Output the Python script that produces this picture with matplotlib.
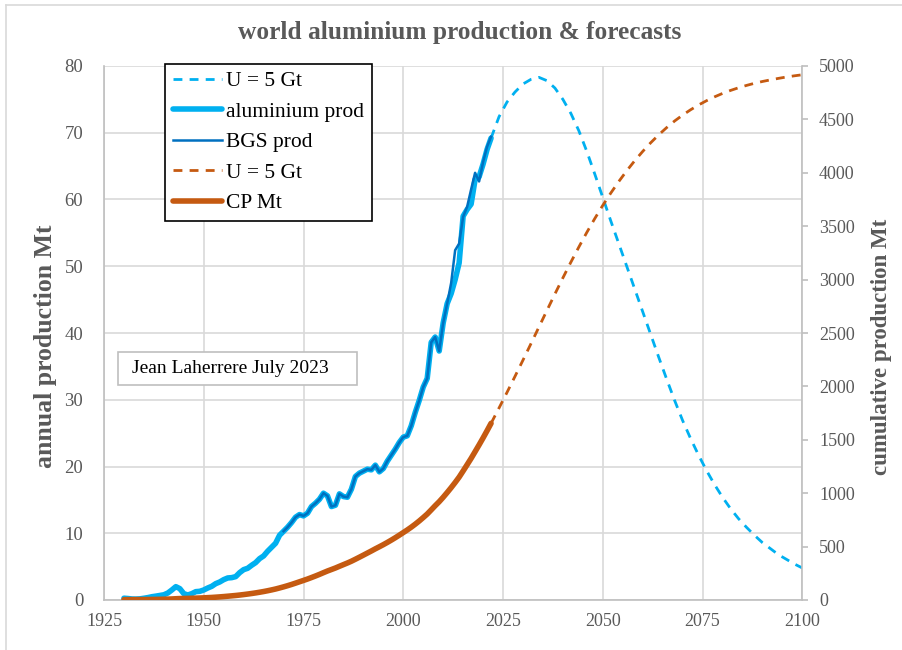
import matplotlib
matplotlib.use("Agg")
import matplotlib.pyplot as plt
from matplotlib.patches import Rectangle
from matplotlib.lines import Line2D

plt.rcParams['font.family'] = ['Liberation Serif', 'DejaVu Serif']

# ---- data -------------------------------------------------------------
years_hist = list(range(1930, 2023))
alu_prod = [
    0.27, 0.22, 0.15, 0.14, 0.17, 0.26, 0.36, 0.49, 0.58, 0.68,
    0.78, 1.05, 1.50, 2.00, 1.70, 0.95, 0.75, 0.95, 1.25, 1.30,
    1.50, 1.80, 2.05, 2.45, 2.70, 3.05, 3.30, 3.35, 3.50, 4.10,
    4.55, 4.75, 5.20, 5.60, 6.20, 6.60, 7.30, 7.90, 8.50, 9.70,
    10.3, 10.9, 11.6, 12.4, 12.8, 12.6, 13.0, 14.0, 14.5, 15.1,
    16.0, 15.6, 14.0, 14.2, 15.9, 15.5, 15.4, 16.6, 18.5, 19.0,
    19.3, 19.6, 19.5, 20.2, 19.2, 19.7, 20.8, 21.7, 22.6, 23.6,
    24.4, 24.6, 26.1, 28.1, 29.9, 31.9, 33.2, 38.6, 39.4, 37.3,
    41.5, 44.4, 45.9, 48.0, 50.5, 57.5, 58.5, 59.3, 63.0, 63.4,
    65.3, 67.5, 69.2,
]

years_bgs = list(range(1970, 2023))
bgs_prod = [
    10.3, 10.9, 11.6, 12.4, 12.8, 12.6, 13.0, 14.0, 14.5, 15.1,
    16.0, 15.6, 14.0, 14.2, 15.9, 15.5, 15.4, 16.6, 18.5, 19.0,
    19.3, 19.6, 19.5, 20.2, 19.2, 19.7, 20.8, 21.7, 22.6, 23.6,
    24.4, 24.6, 26.1, 28.1, 29.9, 31.9, 33.2, 38.6, 39.4, 37.3,
    41.5, 44.4, 47.5, 52.4, 53.4, 57.4, 58.9, 61.5, 64.0, 62.7,
    65.6, 67.9, 69.4,
]

cp_hist = [
    3.3, 3.5, 3.6, 3.8, 4.0, 4.2, 4.6, 5.1, 5.6, 6.3,
    7.1, 8.2, 9.7, 11.7, 13.4, 14.3, 15.1, 16.0, 17.3, 18.6,
    20.1, 21.9, 23.9, 26.4, 29.1, 32.1, 35.4, 38.8, 42.3, 46.4,
    50.9, 55.7, 60.9, 66.5, 72.7, 79.3, 86.6, 94.5, 103.0, 112.7,
    123.0, 133.9, 145.5, 157.9, 170.7, 183.3, 196.3, 210.3, 224.8, 239.9,
    255.9, 271.5, 285.5, 299.7, 315.6, 331.1, 346.5, 363.1, 381.6, 400.6,
    419.9, 439.5, 459.0, 479.2, 498.4, 518.1, 538.9, 560.6, 583.2, 606.8,
    631.2, 655.8, 681.9, 710.0, 739.9, 771.8, 805.0, 843.6, 883.0, 920.3,
    961.8, 1006.2, 1052.1, 1100.1, 1150.6, 1208.1, 1266.6, 1325.9, 1388.9, 1452.3,
    1517.6, 1585.1, 1654.3,
]

years_fc = list(range(2022, 2101, 2))
annual_fc = [
    69.2, 72.4, 74.6, 76.1, 77.3, 78.0, 78.3, 77.8, 76.7, 75.0,
    72.9, 70.3, 67.2, 63.8, 60.3, 56.8, 53.4, 50.0, 46.6, 43.2,
    39.8, 36.4, 33.1, 29.9, 26.9, 24.2, 21.7, 19.4, 17.3, 15.4,
    13.7, 12.2, 10.9, 9.7, 8.6, 7.7, 6.8, 6.1, 5.4, 4.8,
]
cum_fc = [
    1654, 1798, 1944, 2094, 2246, 2400, 2556, 2711, 2865, 3016,
    3163, 3305, 3442, 3572, 3695, 3810, 3918, 4019, 4113, 4200,
    4281, 4355, 4423, 4485, 4540, 4590, 4635, 4675, 4711, 4743,
    4771, 4796, 4818, 4838, 4855, 4870, 4884, 4897, 4908, 4918,
]

x_ticks = list(range(1925, 2101, 25))
left_ticks = list(range(0, 81, 10))
right_ticks = list(range(0, 5001, 500))

# ---- style ------------------------------------------------------------
LIGHT_BLUE = '#00B0F0'
DARK_BLUE = '#0070C0'
ORANGE = '#C55A11'
GREY_TXT = '#595959'
GRID = '#D9D9D9'
AXIS = '#BFBFBF'

W, H = 903, 650
fig = plt.figure(figsize=(W / 100, H / 100), dpi=100)

# chart-area frame
fig.add_artist(Line2D([6 / W, 6 / W], [0, 1 - 5 / H], color=GRID, lw=1.2))
fig.add_artist(Line2D([6 / W, 1], [1 - 5 / H, 1 - 5 / H], color=GRID, lw=1.2))

ax = fig.add_axes([104 / W, 50 / H, 698.3 / W, 534 / H])
ax2 = ax.twinx()

ax.set_xlim(1925, 2100)
ax.set_ylim(0, 80)
ax2.set_ylim(0, 5000)

ax.set_xticks(x_ticks)
ax.set_yticks(left_ticks)
ax2.set_yticks(right_ticks)

ax.grid(True, color=GRID, lw=1.2)
ax.set_axisbelow(True)

for side in ['top', 'right']:
    ax.spines[side].set_visible(False)
for side in ['left', 'bottom']:
    ax.spines[side].set_color(AXIS)
    ax.spines[side].set_linewidth(1.2)
for side in ['top', 'left', 'bottom']:
    ax2.spines[side].set_visible(False)
ax2.spines['right'].set_color(AXIS)
ax2.spines['right'].set_linewidth(1.2)

ax.tick_params(axis='x', length=0, pad=9, labelsize=13, labelcolor=GREY_TXT)
ax.tick_params(axis='y', length=0, pad=15, labelsize=13.5, labelcolor=GREY_TXT)
ax2.tick_params(axis='y', length=4, width=1.2, color=AXIS, direction='out', pad=8,
                labelsize=13, labelcolor=GREY_TXT)

# annual production
l_fc, = ax.plot(years_fc, annual_fc, color=LIGHT_BLUE, lw=2.0, ls=(0, (3.2, 2.6)),
                label='U = 5 Gt')
l_alu, = ax.plot(years_hist, alu_prod, color=LIGHT_BLUE, lw=4.0,
                 solid_joinstyle='round', solid_capstyle='round', label='aluminium prod')
l_bgs, = ax.plot(years_bgs, bgs_prod, color=DARK_BLUE, lw=1.8,
                 solid_joinstyle='round', label='BGS prod')

# cumulative production
l_cfc, = ax2.plot(years_fc, cum_fc, color=ORANGE, lw=2.0, ls=(0, (3.2, 2.6)),
                  label='U = 5 Gt')
l_cp, = ax2.plot(years_hist, cp_hist, color=ORANGE, lw=4.0,
                 solid_joinstyle='round', solid_capstyle='round', label='CP Mt')

leg = ax2.legend(handles=[l_fc, l_alu, l_bgs, l_cfc, l_cp],
                 loc='upper left', bbox_to_anchor=(61 / 698.3, 1.004),
                 borderaxespad=0, fontsize=15.5, frameon=True, fancybox=False,
                 edgecolor='black', framealpha=1, handlelength=2.3,
                 handletextpad=0.2, labelspacing=0.48, borderpad=0.35)
leg.get_frame().set_linewidth(1.2)

# author note
ax2.add_patch(Rectangle((14 / 698.3, (600 - 385) / 534), 239 / 698.3, 33 / 534,
                        transform=ax2.transAxes, facecolor='white', edgecolor=AXIS,
                        lw=1.2, zorder=5))
ax2.text(28 / 698.3, (600 - 368.5) / 534, 'Jean Laherrere July 2023',
         transform=ax2.transAxes, fontsize=14, color='black', va='center', ha='left',
         zorder=6)

fig.text(460 / W, 1 - 32 / H, 'world aluminium production & forecasts',
         ha='center', va='center', fontsize=18.3, fontweight='bold', color=GREY_TXT)
fig.text(46 / W, 1 - 346 / H, 'annual production Mt', rotation=90,
         ha='center', va='center', fontsize=18.5, fontweight='bold', color=GREY_TXT)
fig.text(882 / W, 1 - 347 / H, 'cumulative production Mt', rotation=90,
         ha='center', va='center', fontsize=16.5, fontweight='bold', color=GREY_TXT)

fig.savefig('out.png', dpi=100)
